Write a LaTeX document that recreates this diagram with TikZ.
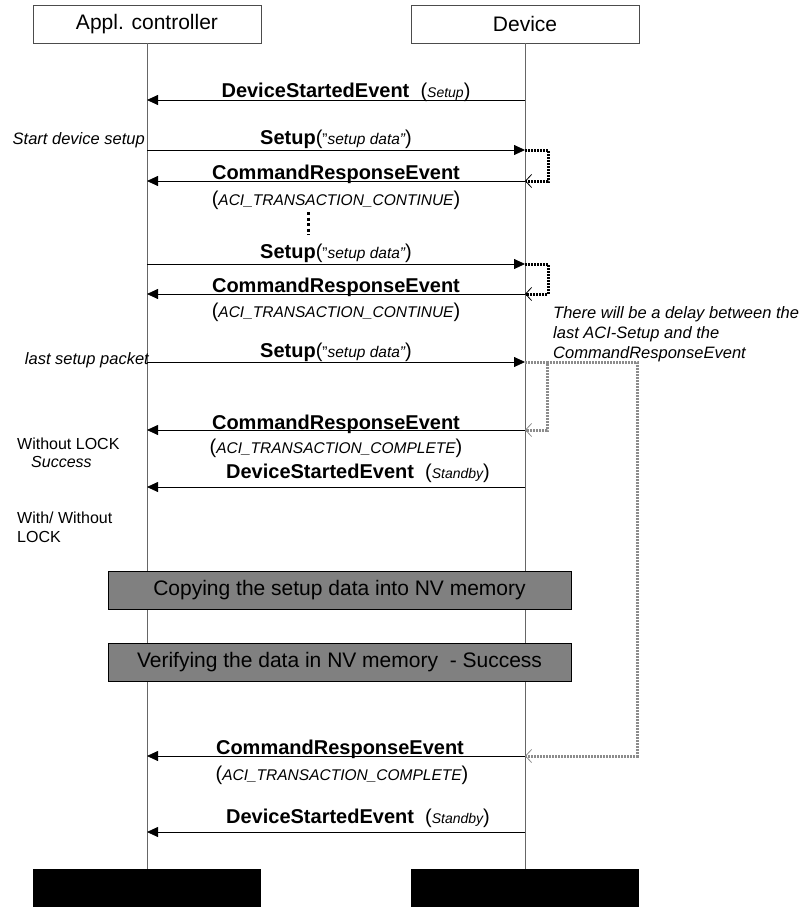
\documentclass[tikz,border=0pt]{standalone}
\usepackage{fontspec}
\setmainfont{Liberation Sans}
\usepackage{tikz}
\usetikzlibrary{positioning, arrows.meta}

% sizes in px of the drawing
\newcommand{\fs}[1]{\fontsize{#1}{#1}\selectfont}
\newcommand{\msgparm}[1]{{\mdseries(}{\mdseries\itshape\fs{15.5}#1}{\mdseries)}}

\begin{document}
\begin{tikzpicture}[
  x=1pt, y=-1pt,
  actor/.style={draw=black!70, minimum width=228pt, minimum height=38pt, inner sep=0pt, font=\fs{21}},
  endbar/.style={fill=black, minimum width=228pt, minimum height=38pt, inner sep=0pt},
  phase/.style={draw, fill=black!50, minimum width=463pt, minimum height=38pt, inner sep=0pt, font=\fs{21}},
  life/.style={black!60, line width=0.8pt},
  msg/.style={line width=0.8pt, -{Triangle[length=11pt, width=10pt]}},
  lbl/.style={anchor=base, inner sep=0pt, font=\fs{20}\bfseries},
  parm/.style={anchor=base, inner sep=0pt, font=\fs{20}},
  note/.style={inner sep=0pt, font=\fs{16.5}\itshape},
  remark/.style={anchor=base west, inner sep=0pt, font=\fs{16}},
  loopback/.style={line width=3pt, dash pattern=on 2pt off 1pt},
  back/.style={-{Straight Barb[length=6pt, width=13pt, line width=0.8pt]}},
]
  \useasboundingbox (0,0) rectangle (803,907);

  % Actors
  \node[actor] (ctrl) at (147,24) {Appl. controller};
  \node[actor] (dev) at (525,24) {Device};
  \node[endbar] (ctrlend) at (147,888) {};
  \node[endbar] (devend) at (525,888) {};

  % Lifelines
  \draw[life] (ctrl) -- (ctrlend);
  \draw[life] (dev) -- (devend);

  % Message rows
  \foreach \n/\y in {1/100, 2/150, 3/181, 4/264, 5/294, 6/362, 7/430, 8/487, 9/756, 10/832} {
    \coordinate (a\n) at (147,\y);
    \coordinate (d\n) at (525,\y);
  }

  % Start-up
  \draw[msg] (d1) -- (a1);
  \node[lbl] (l1) at (346,97) {DeviceStartedEvent\ \ \msgparm{\fs{14}Setup}};

  % First setup packet
  \node[note, anchor=base east] (start) at (145,144) {Start device setup};
  \draw[msg] (a2) -- (d2);
  \node[lbl] (l2) at (336,144) {Setup{\mdseries(}{\mdseries\fs{15.5}”\itshape setup data”}{\mdseries)}};
  \draw[msg] (d3) -- (a3);
  \node[lbl] (l3) at (336,179) {CommandResponseEvent};
  \node[parm] (p3) at (336,205) {\msgparm{ACI\_TRANSACTION\_CONTINUE}};
  \draw[loopback, back] (d2) -- (548,150) -- (548,181) -- (d3);

  % more packets
  \draw[line width=3pt, dash pattern=on 3pt off 2.5pt] (308,212) -- (308,235);

  \draw[msg] (a4) -- (d4);
  \node[lbl] (l4) at (336,258) {Setup{\mdseries(}{\mdseries\fs{15.5}”\itshape setup data”}{\mdseries)}};
  \draw[msg] (d5) -- (a5);
  \node[lbl] (l5) at (336,292) {CommandResponseEvent};
  \node[parm] (p5) at (336,317) {\msgparm{ACI\_TRANSACTION\_CONTINUE}};
  \draw[loopback, back] (d4) -- (548,264) -- (548,294) -- (d5);

  % Delay note
  \node[note, anchor=north west, align=left, font=\fontsize{16.5}{20}\selectfont\itshape] (delay) at (553,306)
    {There will be a delay between the\\last ACI-Setup and the\\CommandResponseEvent};

  % Last setup packet
  \node[note, anchor=base east] (lastpkt) at (149,364) {last setup packet};
  \draw[msg] (a6) -- (d6);
  \node[lbl] (l6) at (336,357) {Setup{\mdseries(}{\mdseries\fs{15.5}”\itshape setup data”}{\mdseries)}};
  \draw[msg] (d7) -- (a7);
  \node[lbl] (l7) at (336,429) {CommandResponseEvent};
  \node[parm] (p7) at (336,453) {\msgparm{ACI\_TRANSACTION\_COMPLETE}};
  \draw[msg] (d8) -- (a8);
  \node[lbl] (l8) at (358,478) {DeviceStartedEvent\ \ \msgparm{\fs{14}Standby}};

  % Gray delay loops
  \coordinate (g1) at (547,362);
  \coordinate (g2) at (547,430);
  \coordinate (g3) at (637,362);
  \coordinate (g4) at (637,756);
  \draw[loopback, black!45, back] (d6) -- (g1) -- (g2) -- (d7);
  \draw[loopback, black!45, back] (g1) -- (g3) -- (g4) -- (d9);

  % Remarks
  \node[remark] (nolock) at (17,449) {Without LOCK};
  \node[note, anchor=base west, font=\fs{16}\itshape] (success) at (31,467) {Success};
  \node[remark] (withlock) at (17,523) {With/ Without};
  \node[remark] (lock) at (17,542) {LOCK};

  % NV memory phases
  \node[phase] (copy) at (339.5,590) {Copying the setup data into NV memory};
  \node[phase] (verify) at (339.5,662) {Verifying the data in NV memory\ \ - Success};

  % Final response
  \draw[msg] (d9) -- (a9);
  \node[lbl] (l9) at (340,754) {CommandResponseEvent};
  \node[parm] (p9) at (342,780) {\msgparm{ACI\_TRANSACTION\_COMPLETE}};
  \draw[msg] (d10) -- (a10);
  \node[lbl] (l10) at (358,823) {DeviceStartedEvent\ \ \msgparm{\fs{14}Standby}};

\end{tikzpicture}
\end{document}
